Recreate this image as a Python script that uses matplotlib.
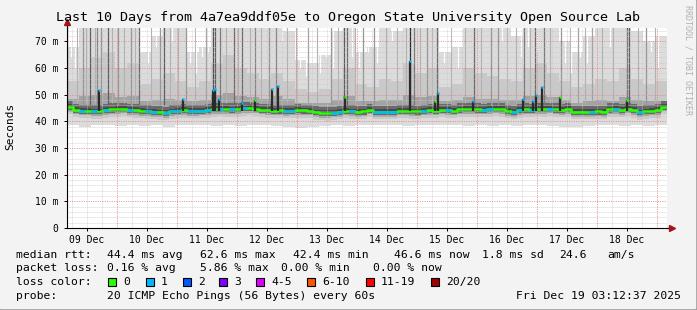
import matplotlib
matplotlib.use('Agg')
import matplotlib.pyplot as plt
from matplotlib.patches import Rectangle
import numpy as np

# Time axis: hours since 09 Dec 00:00, 10 days shown
t_start = 4.0
t_end = 244.0

# Median RTT (ms), one value per 2.4 h step
median_rtt = [
    45.4, 44.4, 44.0, 44.0, 43.8, 43.8, 44.2, 44.5, 44.6, 44.8, 44.3, 44.2, 43.9, 43.8, 43.6, 43.4, 43.2,
    43.8, 44.0, 44.2, 43.9, 43.9, 44.0, 44.2, 44.6, 44.7, 44.6, 44.5, 44.6, 44.9, 45.0, 44.8, 44.4, 44.2,
    44.0, 44.1, 43.9, 44.0, 44.2, 44.1, 44.0, 43.4, 43.2, 43.1, 43.3, 43.6, 44.0, 43.8, 43.6, 43.7,
    44.4, 43.6, 43.5, 43.5, 43.6, 44.0, 44.0, 43.8, 43.7, 44.0, 44.2, 44.0, 44.4, 44.2, 44.0, 44.5, 44.6,
    44.6, 44.5, 44.4, 44.6, 44.8, 44.6, 43.9, 43.5, 44.2, 44.5, 44.4, 44.7, 44.6, 44.8, 44.5, 44.3, 44.6,
    43.6, 43.5, 43.6, 43.5, 43.7, 43.6, 44.5, 44.6, 44.3, 44.8, 44.2, 43.4, 43.8, 44.0, 44.2, 45.5,
]
# lost pings (of 20) for each median step
loss_count = [
    0, 0, 1, 0, 1, 0, 1, 0, 0, 0,
    1, 0, 0, 1, 1, 0, 1, 1, 1, 0,
    1, 1, 1, 1, 0, 1, 0, 1, 0, 1,
    0, 0, 0, 0, 0, 0, 1, 1, 0, 0,
    0, 0, 0, 0, 1, 1, 0, 1, 0, 0,
    0, 1, 1, 1, 1, 0, 0, 0, 0, 1,
    0, 0, 0, 1, 0, 0, 0, 0, 0, 1,
    1, 0, 0, 0, 1, 1, 0, 1, 0, 0,
    1, 0, 0, 0, 0, 0, 0, 1, 0, 0,
    0, 1, 0, 0, 0, 1, 0, 0, 0, 0,
]

# Smoke levels (ms), one value per 4.8 h step
smoke_low = [38.5, 38.0, 38.5, 38.8, 38.2, 38.6, 38.4, 38.8, 38.0, 38.5,
             38.8, 38.6, 38.3, 38.5, 38.2, 38.6, 38.8, 38.4, 38.0, 37.6,
             37.8, 38.4, 38.6, 38.2, 38.7, 38.5, 38.8, 38.6, 38.3, 38.5,
             38.6, 38.8, 38.5, 38.3, 38.6, 38.4, 38.6, 38.2, 38.5, 38.7,
             38.4, 38.0, 37.8, 38.3, 38.6, 38.5, 38.4, 38.6, 38.2, 38.5]
smoke_dark = [48.5, 49.5, 50.0, 50.5, 49.0, 49.5, 47.5, 48.0, 48.5, 48.0,
              47.5, 48.0, 50.0, 50.5, 49.5, 49.0, 48.5, 49.5, 48.5, 47.0,
              46.8, 47.0, 48.0, 49.5, 47.5, 47.5, 48.0, 48.0, 50.0, 49.0,
              49.5, 47.5, 48.0, 49.0, 48.5, 48.5, 48.0, 48.0, 49.5, 50.0,
              49.0, 48.0, 47.0, 47.5, 48.0, 47.5, 49.0, 48.0, 47.5, 47.5]
smoke_mid = [55, 60, 64, 66, 60, 62, 54, 56, 58, 55,
             53, 55, 62, 65, 60, 58, 56, 58, 55, 52,
             51, 52, 56, 60, 54, 53, 56, 55, 62, 58,
             60, 53, 54, 60, 58, 57, 56, 55, 60, 62,
             58, 55, 53, 54, 56, 55, 60, 56, 54, 55]
smoke_top = [68, 80, 80, 80, 80, 80, 66, 72, 80, 78,
             66, 68, 80, 80, 80, 80, 76, 80, 74, 63,
             62, 65, 74, 80, 66, 68, 76, 74, 80, 78,
             80, 66, 68, 80, 80, 80, 76, 72, 80, 80,
             80, 70, 66, 72, 78, 76, 80, 74, 70, 72]

# Short bursts of high pings: time (h), top (ms), pings involved
spike_hours = [4.0, 10.4, 13.2, 16.0, 17.6, 20.4, 24.4, 29.6, 32.8, 41.2, 42.8, 51.6,
               59.6, 62.4, 63.2, 65.2, 70.8, 74.0, 79.2, 84.8, 87.6, 100.4, 109.6,
               114.8, 116.0, 122.4, 126.8, 141.2, 142.8, 148.0, 152.0, 166.8, 173.6,
               176.4, 186.8, 191.2, 194.8, 201.6, 208.4, 214.0, 228.0, 228.8, 235.6]
spike_top = [80] * len(spike_hours)
spike_pings = [10, 4, 8, 5, 4, 8, 4, 4, 7, 4, 8, 4,
               3, 9, 8, 6, 7, 7, 5, 4, 5, 3, 4,
               8, 7, 4, 4, 12, 6, 4, 7, 7, 4,
               4, 6, 7, 6, 4, 3, 3, 9, 8, 4]

# single slow pings (faint streaks) and steps where even the slowest ping stayed low
streak_hours = [8.0, 11.6, 15.2, 22.0, 26.8, 31.2, 37.6, 45.2, 48.4, 55.2, 67.6, 72.4,
                77.2, 81.6, 92.0, 95.6, 104.0, 112.4, 119.2, 131.6, 136.0, 139.6, 145.2,
                150.0, 157.6, 163.2, 169.6, 180.0, 183.6, 189.2, 197.2, 205.2, 211.2,
                218.0, 222.4, 232.4, 239.2]
gap_hours = [5.6, 7.2, 34.0, 36.4, 39.6, 46.0, 53.2, 55.6, 58.0, 60.4, 90.0, 97.2, 99.6,
             102.4, 105.2, 107.6, 110.4, 118.0, 120.8, 124.4, 128.0, 134.0, 154.8, 157.2,
             160.4, 178.0, 185.6, 188.4, 192.0, 203.2, 205.6, 209.2, 212.0, 221.0, 237.6, 240.4]
gap_floor = [64, 60, 66, 62, 68, 70, 62, 58, 64, 66, 70, 60, 57,
             62, 58, 64, 60, 64, 60, 66, 62, 70, 62, 66,
             60, 70, 64, 68, 66, 62, 58, 64, 62, 68, 66, 60]

# Steps where the median itself jumped up
peak_hours = [16.8, 50.4, 62.4, 63.2, 64.8, 74.0, 79.2, 86.0, 88.4, 115.2, 141.2,
              151.2, 152.4, 166.4, 186.4, 190.4, 191.6, 194.0, 201.2, 228.0]
peak_rtt = [51.9, 48.2, 51.7, 52.0, 48.5, 47.0, 48.0, 52.2, 53.2, 49.0, 62.6,
            47.5, 50.7, 47.5, 48.5, 47.5, 50.0, 53.0, 49.0, 48.0]
peak_loss = [1, 1, 1, 1, 1, 1, 0, 1, 1, 0, 1,
             0, 1, 1, 1, 1, 1, 1, 0, 0]

day_labels = ['09 Dec', '10 Dec', '11 Dec', '12 Dec', '13 Dec',
              '14 Dec', '15 Dec', '16 Dec', '17 Dec', '18 Dec']
ytick_vals = [0, 10, 20, 30, 40, 50, 60, 70]
ytick_labels = ['0', '10 m', '20 m', '30 m', '40 m', '50 m', '60 m', '70 m']

rtt_stats = ['44.4 ms avg', '62.6 ms max', '42.4 ms min', '46.6 ms now', '1.8 ms sd', '24.6', 'am/s']
loss_stats = ['0.16 % avg', '5.86 % max', '0.00 % min', '0.00 % now']
loss_labels = ['0', '1', '2', '3', '4-5', '6-10', '11-19', '20/20']
probe_text = '20 ICMP Echo Pings (56 Bytes) every 60s'
stamp_text = 'Fri Dec 19 03:12:37 2025'

loss_colors = ['#26ff00', '#00b8ff', '#0059ff', '#7e00ff', '#dd00ff', '#ff5500', '#ff0000', '#a00000']
mono = 'DejaVu Sans Mono'

W, H = 697, 310
def fx(px):
    return px / W
def fy(py):
    return 1 - py / H

fig = plt.figure(figsize=(W / 100, H / 100), dpi=100, facecolor='#9c9c9c')
# light panel inside a darker right/bottom edge
fig.patches.append(Rectangle((0, fy(308)), fx(695), fy(0) - fy(308), transform=fig.transFigure,
                             color='#f3f3f3', zorder=-5))

ax = fig.add_axes([fx(67), fy(228), 600 / W, 200 / H])
ax.set_zorder(2)
ax.set_facecolor('white')
ax.set_xlim(t_start, t_end)
ax.set_ylim(0, 75)

# step grids
n_med = len(median_rtt)
med_edges = np.linspace(t_start, t_end, n_med + 1)
med = np.array(median_rtt)
med_s = np.append(med, med[-1])
n_sm = len(smoke_low)
rep = n_med // n_sm
lo_s = np.append(np.repeat(smoke_low, rep), smoke_low[-1])
dk_s = np.append(np.repeat(smoke_dark, rep), smoke_dark[-1])
md_s = np.append(np.repeat(smoke_mid, rep), smoke_mid[-1])
tp_s = np.append(np.repeat(smoke_top, rep), smoke_top[-1])

# smoke layers
ax.fill_between(med_edges, lo_s, tp_s, step='post', color='#dcdcdc', lw=0, zorder=1)
ax.fill_between(med_edges, med_s - 2.8, md_s, step='post', color='#c9c9c9', lw=0, zorder=1)
ax.fill_between(med_edges, med_s - 1.8, dk_s, step='post', color='#a3a3a3', lw=0, zorder=1)
ax.fill_between(med_edges, med_s - 1.2, med_s + 2.2, step='post', color='#6a6a6a', lw=0, zorder=1)
ax.fill_between(med_edges, med_s - 0.6, med_s + 1.0, step='post', color='#4a4a4a', lw=0, zorder=1)

# texture: faint streaks, white slits where the slowest ping stayed low
ax.vlines(streak_hours, 47, 80, colors='#b0b0b0', lw=0.8, zorder=1.5)
ax.vlines(gap_hours, gap_floor, 80, colors='white', lw=0.9, zorder=1.6)

# bursts of slow pings
spike_gray = [str(max(0.15, 0.8 - 0.055 * c)) for c in spike_pings]
ax.vlines(spike_hours, 46, spike_top, colors=spike_gray, lw=0.9, zorder=2)

# grid over the smoke, rrdtool style
dot = (0, (1, 1.4))
for y in np.arange(2, 75, 2):
    if y % 10:
        ax.axhline(y, color='#c8c8c8', lw=0.6, ls=dot, zorder=3)
for x in np.arange(6, 244, 6):
    if x % 24:
        ax.axvline(x, color='#c8c8c8', lw=0.6, ls=dot, zorder=3)
for y in ytick_vals[1:]:
    ax.axhline(y, color='#e58a8a', lw=0.7, ls=dot, zorder=3)
for x in np.arange(24, 244, 24):
    ax.axvline(x, color='#e58a8a', lw=0.7, ls=dot, zorder=3)

# median line coloured by loss
ax.step(med_edges, med_s, where='post', color=loss_colors[0], lw=1.8, zorder=4)
for i in range(n_med):
    if loss_count[i] > 0:
        ax.hlines(med[i], med_edges[i], med_edges[i + 1], colors=loss_colors[loss_count[i]], lw=1.8, zorder=4)

# median jumps
ax.vlines(peak_hours, 44, peak_rtt, colors='#2a2a2a', lw=1.6, zorder=5)
for h, r, l in zip(peak_hours, peak_rtt, peak_loss):
    ax.hlines(r, h - 0.5, h + 0.5, colors=loss_colors[l], lw=1.8, zorder=6)

# axes
for s in ['top', 'right']:
    ax.spines[s].set_visible(False)
for s in ['left', 'bottom']:
    ax.spines[s].set_linewidth(0.8)
    ax.spines[s].set_zorder(7)
ax.plot([0, 0], [1, 1.025], transform=ax.transAxes, color='black', lw=0.8, clip_on=False, zorder=7)
ax.plot([1, 1.006], [0, 0], transform=ax.transAxes, color='black', lw=0.8, clip_on=False, zorder=7)
ax.plot(0, 1.03, marker='^', ms=4, color='#a01515', transform=ax.transAxes, clip_on=False, zorder=8)
ax.plot(1.009, 0, marker='>', ms=4, color='#a01515', transform=ax.transAxes, clip_on=False, zorder=8)

ax.set_yticks(ytick_vals)
ax.set_yticklabels(ytick_labels, family=mono, fontsize=7)
ax.set_xticks(np.arange(12, 240, 24))
ax.set_xticklabels(day_labels, family=mono, fontsize=7)
ax.tick_params(axis='y', length=2, width=0.7, pad=4)
ax.tick_params(axis='x', length=2, width=0.7, pad=3)

# texts
fig.text(fx(348), fy(18), 'Last 10 Days from 4a7ea9ddf05e to Oregon State University Open Source Lab',
         ha='center', va='center', family=mono, fontsize=9.6)
fig.text(fx(10), fy(126), 'Seconds', rotation=90, ha='center', va='center', family=mono, fontsize=8)
fig.text(fx(688), fy(5), 'RRDTOOL / TOBI OETIKER', rotation=270, ha='center', va='top',
         family=mono, fontsize=6, color='#b0b0b0')

fs = 8.2
fig.text(fx(16), fy(255), 'median rtt:', ha='left', va='center', family=mono, fontsize=fs)
for s, x in zip(rtt_stats, [107, 200, 293, 394, 482, 559, 607]):
    fig.text(fx(x), fy(255), s, ha='left', va='center', family=mono, fontsize=fs)
fig.text(fx(16), fy(268), 'packet loss:', ha='left', va='center', family=mono, fontsize=fs)
for s, x in zip(loss_stats, [107, 200, 281, 373]):
    fig.text(fx(x), fy(268), s, ha='left', va='center', family=mono, fontsize=fs)
fig.text(fx(16), fy(282), 'loss color:', ha='left', va='center', family=mono, fontsize=fs)
box_x = [108, 146, 183, 219, 256, 307, 366, 431]
for lab, col, x in zip(loss_labels, loss_colors, box_x):
    fig.patches.append(Rectangle((fx(x), fy(286)), 8 / W, 8 / H, transform=fig.transFigure,
                                 facecolor=col, edgecolor='black', lw=0.8, zorder=3))
    fig.text(fx(x + 15), fy(282), lab, ha='left', va='center', family=mono, fontsize=fs)
fig.text(fx(16), fy(296), 'probe:', ha='left', va='center', family=mono, fontsize=fs)
fig.text(fx(107), fy(296), probe_text, ha='left', va='center', family=mono, fontsize=fs)
fig.text(fx(681), fy(296), stamp_text, ha='right', va='center', family=mono, fontsize=fs)

fig.savefig('out.png', dpi=100, facecolor=fig.get_facecolor())
